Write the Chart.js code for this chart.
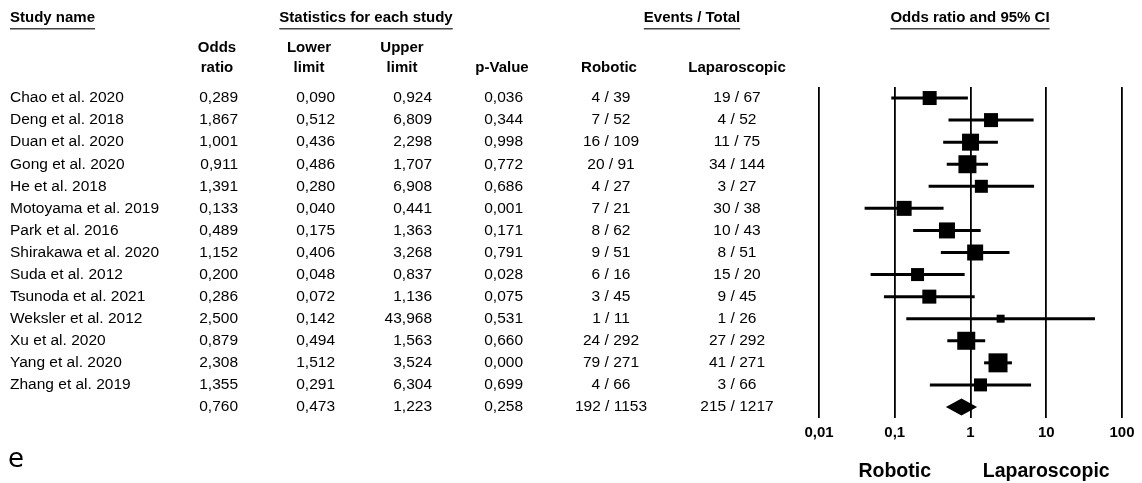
<!DOCTYPE html>
<html lang="en">
<head>
<meta charset="UTF-8">
<title>Forest plot - Robotic vs Laparoscopic</title>
<script src="https://cdn.jsdelivr.net/npm/chart.js@4.4.1/dist/chart.umd.min.js"></script>
<style>
  body { margin: 0; background: #fff; }
  #wrap { width: 1142px; height: 483px; }
</style>
</head>
<body>
<div id="wrap"><canvas id="forest" width="1142" height="483"></canvas></div>
<script>
var studies = ["Chao et al. 2020", "Deng et al. 2018", "Duan et al. 2020", "Gong et al. 2020",
  "He et al. 2018", "Motoyama et al. 2019", "Park et al. 2016", "Shirakawa et al. 2020",
  "Suda et al. 2012", "Tsunoda et al. 2021", "Weksler et al. 2012", "Xu et al. 2020",
  "Yang et al. 2020", "Zhang et al. 2019"];
var oddsRatio  = [0.289, 1.867, 1.001, 0.911, 1.391, 0.133, 0.489, 1.152, 0.200, 0.286, 2.500, 0.879, 2.308, 1.355];
var lowerLimit = [0.090, 0.512, 0.436, 0.486, 0.280, 0.040, 0.175, 0.406, 0.048, 0.072, 0.142, 0.494, 1.512, 0.291];
var upperLimit = [0.924, 6.809, 2.298, 1.707, 6.908, 0.441, 1.363, 3.268, 0.837, 1.136, 43.968, 1.563, 3.524, 6.304];
var pValue     = [0.036, 0.344, 0.998, 0.772, 0.686, 0.001, 0.171, 0.791, 0.028, 0.075, 0.531, 0.660, 0.000, 0.699];
var roboticEvents = ["4 / 39", "7 / 52", "16 / 109", "20 / 91", "4 / 27", "7 / 21", "8 / 62",
  "9 / 51", "6 / 16", "3 / 45", "1 / 11", "24 / 292", "79 / 271", "4 / 66"];
var laparoscopicEvents = ["19 / 67", "4 / 52", "11 / 75", "34 / 144", "3 / 27", "30 / 38", "10 / 43",
  "8 / 51", "15 / 20", "9 / 45", "1 / 26", "27 / 292", "41 / 271", "3 / 66"];
// pooled: odds ratio, lower, upper, p
var summaryStats = [0.760, 0.473, 1.223, 0.258];
var summaryEvents = ["192 / 1153", "215 / 1217"];
var xTicks = [0.01, 0.1, 1, 10, 100];

// box side in px (study weight), styling only
var boxSide = [14, 14, 17, 18, 13, 15, 16, 16, 13, 14, 8, 18, 19, 13];

function fmt(v) { return v.toFixed(3).replace('.', ','); }

var FONT = '"Liberation Sans", Arial, sans-serif';

var tablePlugin = {
  id: 'forestTable',
  beforeDatasetsDraw: function(chart) {
    var ctx = chart.ctx, xs = chart.scales.x, ys = chart.scales.y;
    ctx.save();
    ctx.strokeStyle = '#000';
    ctx.lineWidth = 3;
    for (var i = 0; i < studies.length; i++) {
      var y = ys.getPixelForValue(i);
      ctx.beginPath();
      ctx.moveTo(xs.getPixelForValue(lowerLimit[i]), y);
      ctx.lineTo(xs.getPixelForValue(upperLimit[i]), y);
      ctx.stroke();
    }
    ctx.restore();
  },
  afterDatasetsDraw: function(chart) {
    var ctx = chart.ctx, xs = chart.scales.x, ys = chart.scales.y;
    ctx.save();
    // summary diamond
    var sy = ys.getPixelForValue(studies.length);
    ctx.fillStyle = '#000';
    ctx.beginPath();
    ctx.moveTo(xs.getPixelForValue(summaryStats[1]), sy);
    ctx.lineTo(xs.getPixelForValue(summaryStats[0]), sy - 8.5);
    ctx.lineTo(xs.getPixelForValue(summaryStats[2]), sy);
    ctx.lineTo(xs.getPixelForValue(summaryStats[0]), sy + 8.5);
    ctx.closePath();
    ctx.fill();

    // headers
    ctx.fillStyle = '#000';
    ctx.textBaseline = 'middle';
    ctx.font = 'bold 15px ' + FONT;
    function header(txt, x, y, align, underline) {
      ctx.textAlign = align;
      ctx.fillText(txt, x, y);
      if (underline) {
        var w = ctx.measureText(txt).width;
        var x0 = align === 'center' ? x - w / 2 : x;
        ctx.fillStyle = '#444';
        ctx.fillRect(x0, y + 10, w, 1.5);
        ctx.fillStyle = '#000';
      }
    }
    header('Study name', 10, 18, 'left', true);
    header('Statistics for each study', 366, 18, 'center', true);
    header('Events / Total', 692, 18, 'center', true);
    header('Odds ratio and 95% CI', 970, 18, 'center', true);
    header('Odds', 217, 48, 'center');
    header('ratio', 217, 68, 'center');
    header('Lower', 309, 48, 'center');
    header('limit', 309, 68, 'center');
    header('Upper', 402, 48, 'center');
    header('limit', 402, 68, 'center');
    header('p-Value', 502, 68, 'center');
    header('Robotic', 609, 68, 'center');
    header('Laparoscopic', 737, 68, 'center');

    // rows
    ctx.font = '15.5px ' + FONT;
    for (var i = 0; i <= studies.length; i++) {
      var y = ys.getPixelForValue(i);
      var isSum = i === studies.length;
      var vals = isSum ? summaryStats : [oddsRatio[i], lowerLimit[i], upperLimit[i], pValue[i]];
      if (!isSum) { ctx.textAlign = 'left'; ctx.fillText(studies[i], 10, y); }
      ctx.textAlign = 'right';
      ctx.fillText(fmt(vals[0]), 238, y);
      ctx.fillText(fmt(vals[1]), 335, y);
      ctx.fillText(fmt(vals[2]), 432, y);
      ctx.fillText(fmt(vals[3]), 523, y);
      ctx.textAlign = 'center';
      ctx.fillText(isSum ? summaryEvents[0] : roboticEvents[i], 611, y);
      ctx.fillText(isSum ? summaryEvents[1] : laparoscopicEvents[i], 737, y);
    }

    // favours labels
    ctx.font = 'bold 19.5px ' + FONT;
    ctx.textAlign = 'center';
    ctx.fillText('Robotic', xs.getPixelForValue(0.1), 472);
    ctx.fillText('Laparoscopic', xs.getPixelForValue(10), 472);

    // panel letter
    ctx.font = '26px "DejaVu Sans", sans-serif';
    ctx.textAlign = 'left';
    ctx.fillText('e', 8, 460);
    ctx.restore();
  }
};

new Chart(document.getElementById('forest'), {
  type: 'scatter',
  data: {
    datasets: [{
      data: studies.map(function(s, i) { return { x: oddsRatio[i], y: i }; }),
      pointStyle: 'rect',
      pointRadius: boxSide.map(function(s) { return s / Math.SQRT2; }),
      backgroundColor: '#000',
      borderWidth: 0
    }]
  },
  options: {
    responsive: false,
    animation: false,
    layout: { padding: { left: 819, right: 20, top: 87, bottom: 35 } },
    plugins: { legend: { display: false }, tooltip: { enabled: false } },
    scales: {
      x: {
        type: 'logarithmic',
        min: 0.01,
        max: 100,
        afterBuildTicks: function(axis) {
          axis.ticks = xTicks.map(function(v) { return { value: v }; });
        },
        ticks: {
          autoSkip: false,
          maxRotation: 0,
          padding: 6,
          color: '#000',
          font: { family: FONT, size: 15, weight: 'bold' },
          callback: function(v) { return String(v).replace('.', ','); }
        },
        grid: { color: '#000', lineWidth: 1.8, drawTicks: false },
        border: { display: false }
      },
      y: {
        type: 'linear',
        min: -0.5,
        max: 14.5,
        reverse: true,
        display: false
      }
    }
  },
  plugins: [tablePlugin]
});
</script>
</body>
</html>
